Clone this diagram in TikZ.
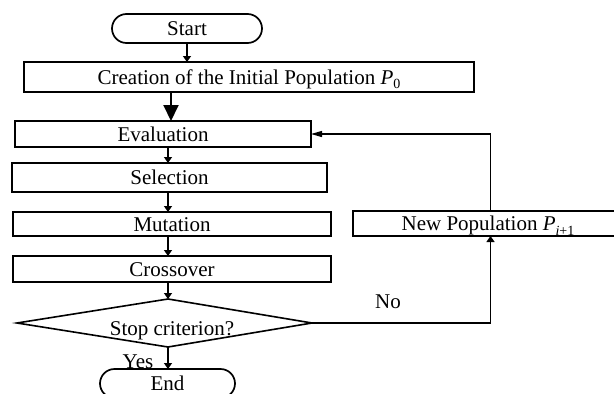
\documentclass[tikz,border=0pt]{standalone}
\usepackage{fontspec}
\setmainfont{Liberation Serif}
\usetikzlibrary{arrows.meta,shapes.misc}
\newcommand{\mysub}[1]{\raisebox{-4.5pt}{\fontsize{14}{14}\selectfont #1}}
\begin{document}
\begin{tikzpicture}[x=1pt,y=-1pt,
  every node/.style={inner sep=0pt,outer sep=0pt,font=\fontsize{21}{25}\selectfont},
  procbox/.style={draw,line width=1.7pt,text height=14pt,text depth=0pt},
  termbox/.style={draw,rounded rectangle,line width=1.7pt,text height=14pt,text depth=0pt},
  conn/.style={line width=1.3pt,-{Triangle[width=8pt,length=6pt]}},
  lbl/.style={anchor=base}
]
\useasboundingbox (0,0) rectangle (614,394);
\clip (0,0) rectangle (614,394);

\node[termbox,minimum width=150pt,minimum height=29pt] (start) at (187,28.5) {Start};
\node[procbox,minimum width=450pt,minimum height=30pt] (create) at (249,77) {Creation of the Initial Population \textit{P}\mysub{0}};
\node[procbox,minimum width=296pt,minimum height=26pt] (eval) at (163,134) {Evaluation};
\node[procbox,minimum width=315pt,minimum height=29pt] (sel) at (169.5,177.5) {Selection};
\node[procbox,minimum width=318pt,minimum height=24pt] (mut) at (172,224) {Mutation};
\node[procbox,minimum width=318pt,minimum height=26pt] (cross) at (172,269) {Crossover};
\node[procbox,minimum width=270pt,minimum height=25pt] (newpop) at (488,223.5) {New Population \textit{P}\mysub{\textit{i}+1}};
\node[termbox,minimum width=135pt,minimum height=29pt] (end) at (167.5,383.5) {End};

\coordinate (dt) at (168,299);
\coordinate (dl) at (17,323);
\coordinate (dr) at (312,323);
\coordinate (db) at (168,347);
\draw[line width=1.6pt] (dt) -- (dr) -- (db) -- (dl) -- cycle;
\node[lbl] (stoptxt) at (172,335) {Stop criterion?};

\coordinate (bigx) at (171,0);
\coordinate (ax) at (168,0);
\coordinate (fb) at (490.5,0);

\draw[conn] (start.south) -- (start.south |- create.north);
\draw[line width=2pt,-{Triangle[width=15pt,length=16pt]}] (create.south -| bigx) -- (eval.north -| bigx);
\draw[conn] (eval.south -| ax) -- (sel.north -| ax);
\draw[conn] (sel.south -| ax) -- (mut.north -| ax);
\draw[conn] (mut.south -| ax) -- (cross.north -| ax);
\draw[conn] (cross.south -| ax) -- (dt);
\draw[conn] (db) -- (end.north -| db);
\draw[conn] (dr) -- (dr -| fb) -- (newpop.south -| fb);
\draw[line width=1.3pt,-{Triangle[width=6pt,length=11pt]}] (newpop.north -| fb) -- (fb |- eval.east) -- (eval.east);

\node[lbl] (yes) at (138,368) {Yes};
\node[lbl] (no) at (388,308) {No};
\end{tikzpicture}
\end{document}
